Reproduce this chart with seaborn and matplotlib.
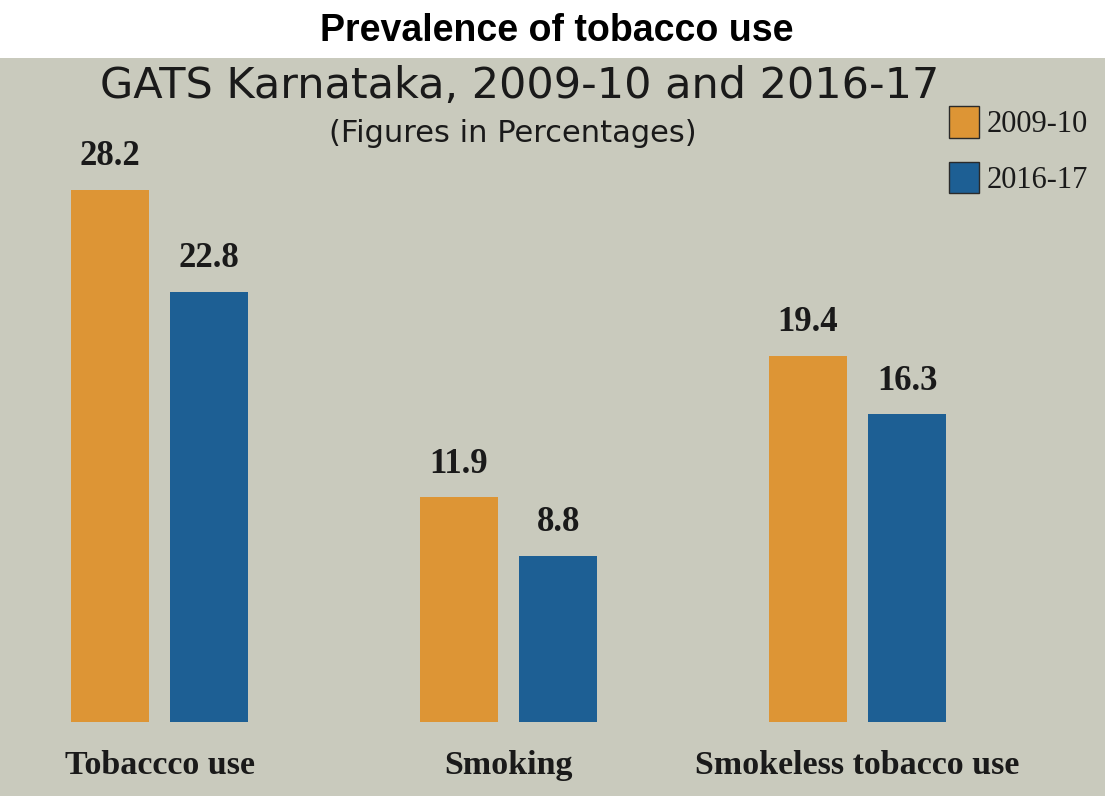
import matplotlib
matplotlib.use("Agg")
import matplotlib.pyplot as plt
import seaborn as sns
import pandas as pd
from matplotlib.patches import Rectangle

categories = ["Tobaccco use", "Smoking", "Smokeless tobacco use"]
years = ["2009-10", "2016-17"]
values_2009 = [28.2, 11.9, 19.4]
values_2016 = [22.8, 8.8, 16.3]
colors = ["#dd9535", "#1d5f94"]

df = pd.DataFrame({
    "Category": categories * 2,
    "Year": [years[0]] * 3 + [years[1]] * 3,
    "Value": values_2009 + values_2016,
})

sns.set_theme(style="white")
W, H = 1105, 796
bg = "#c9cabd"
fig = plt.figure(figsize=(W / 100, H / 100), dpi=100, facecolor=bg)
fig.patches.append(Rectangle((0, (H - 58) / H), 1, 58 / H, transform=fig.transFigure,
                             facecolor="white", edgecolor="none", zorder=0))

ax_bottom = 74 / H
ax_top = (H - 58) / H
ax = fig.add_axes([0, ax_bottom, 1, ax_top - ax_bottom])
ax.set_facecolor(bg)

sns.barplot(data=df, x="Category", y="Value", hue="Year", palette=colors,
            width=0.571, gap=0.22, ax=ax, legend=True, saturation=1,
            linewidth=0, edgecolor="none")

px_per_unit = 18.87
ax.set_ylim(0, (H - 58 - 74) / px_per_unit)
ax.set_xlim(-159.5 / 349, (W - 159.5) / 349)

for c in ax.containers:
    ax.bar_label(c, fmt="%.1f", padding=12, fontsize=25, fontweight="bold",
                 fontfamily="Liberation Serif", color="#1a1a1a")

ax.set_xlabel("")
ax.set_ylabel("")
ax.set_yticks([])
ax.tick_params(axis="x", length=0, pad=20)
for lbl in ax.get_xticklabels():
    lbl.set_fontfamily("Liberation Serif")
    lbl.set_fontweight("bold")
    lbl.set_fontsize(24.5)
    lbl.set_color("#1a1a1a")
for s in ax.spines.values():
    s.set_visible(False)

leg = ax.legend(loc="upper left", bbox_to_anchor=(937 / W, (H - 94) / H),
                bbox_transform=fig.transFigure, frameon=False,
                prop={"family": "Liberation Serif", "size": 22},
                handlelength=0.98, handleheight=1.2, handletextpad=0.25,
                labelspacing=0.75, borderaxespad=0)
for h in leg.legend_handles:
    h.set_edgecolor("#2a2a2a")
    h.set_linewidth(1.0)
for t in leg.get_texts():
    t.set_color("#1a1a1a")

fig.text(557 / W, 1 - 31 / H, "Prevalence of tobacco use", ha="center", va="center",
         fontsize=27, fontweight="bold", fontfamily="Liberation Sans", color="black")
fig.text(520 / W, 1 - 86 / H, "GATS Karnataka, 2009-10 and 2016-17", ha="center",
         va="center", fontsize=31, fontfamily="DejaVu Sans", color="#1a1a1a")
fig.text(513 / W, 1 - 133 / H, "(Figures in Percentages)", ha="center",
         va="center", fontsize=22, fontfamily="DejaVu Sans", color="#1a1a1a")

fig.savefig("out.png", dpi=100, facecolor=bg)
